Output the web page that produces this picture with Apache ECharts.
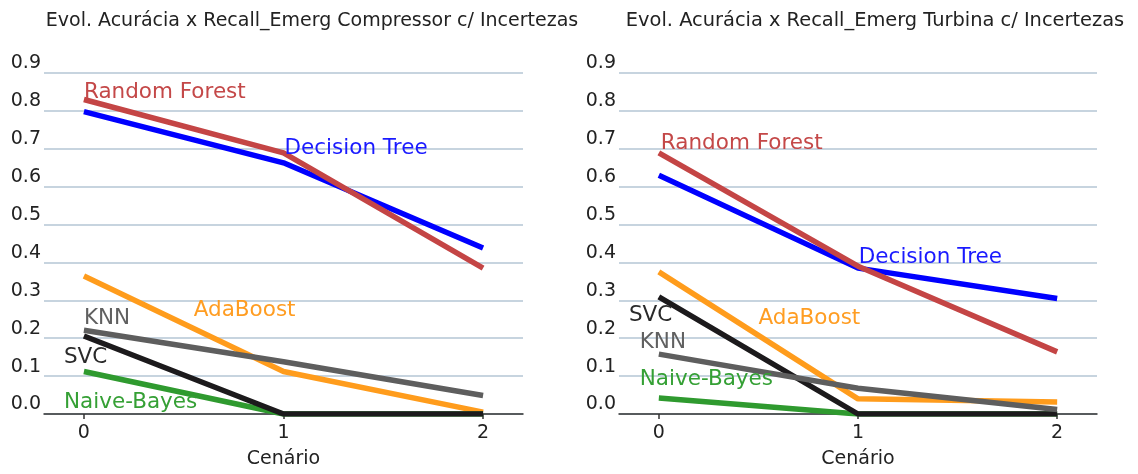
<!DOCTYPE html>
<html>
<head>
<meta charset="utf-8">
<script src="https://cdn.jsdelivr.net/npm/echarts@6/dist/echarts.min.js"></script>
<style>html,body{margin:0;padding:0;background:#fff}#c{width:1138px;height:474px}</style>
</head>
<body>
<div id="c"></div>
<script>
// ---- data ----
const scenarios = [0, 1, 2];
const yTicks = [0.0, 0.1, 0.2, 0.3, 0.4, 0.5, 0.6, 0.7, 0.8, 0.9];
const titleComp = 'Evol. Acurácia x Recall_Emerg Compressor c/ Incertezas';
const titleTurb = 'Evol. Acurácia x Recall_Emerg Turbina c/ Incertezas';
const xName = 'Cenário';
const modelNames = ['Decision Tree', 'Random Forest', 'AdaBoost', 'Naive-Bayes', 'SVC', 'KNN'];

// Compressor
const compDT  = [0.798, 0.663, 0.438];
const compRF  = [0.830, 0.689, 0.385];
const compAda = [0.364, 0.112, 0.005];
const compNB  = [0.112, 0.000, 0.000];
const compSVC = [0.206, 0.000, 0.000];
const compKNN = [0.221, 0.138, 0.049];

// Turbina
const turbDT  = [0.630, 0.385, 0.305];
const turbRF  = [0.689, 0.390, 0.164];
const turbAda = [0.375, 0.040, 0.032];
const turbNB  = [0.042, 0.000, 0.000];
const turbSVC = [0.309, 0.000, 0.000];
const turbKNN = [0.158, 0.068, 0.012];

// annotation anchors (data coords, left-middle of text)
const compLabelX = [1.005, 0.0, 0.55, -0.10, -0.10, 0.0];
const compLabelY = [0.701, 0.850, 0.273, 0.030, 0.150, 0.252];
const turbLabelX = [1.004, 0.01, 0.50, -0.096, -0.15, -0.096];
const turbLabelY = [0.412, 0.714, 0.252, 0.090, 0.260, 0.189];
const ghostLabel = {name: 'AdaBoost', x: 0.55, y: 0.317};

// ---- styles ----
const FONT = 'DejaVu Sans';
const colors = {
  'Decision Tree': '#0000ff',
  'Random Forest': '#c44545',
  'AdaBoost': '#ff9c1c',
  'Naive-Bayes': '#2f9a2f',
  'SVC': '#1c1a1c',
  'KNN': '#5e5e5e'
};
const textColors = {
  'Decision Tree': '#1a1aff',
  'Random Forest': '#c44848',
  'AdaBoost': '#ff9d22',
  'Naive-Bayes': '#35a035',
  'SVC': '#2a2a2a',
  'KNN': '#606060'
};

const compSets = [compDT, compRF, compAda, compNB, compSVC, compKNN];
const turbSets = [turbDT, turbRF, turbAda, turbNB, turbSVC, turbKNN];

function xAxisFor(gi) {
  return {
    type: 'value', gridIndex: gi, min: -0.2, max: 2.2,
    axisLine: {show: true, lineStyle: {color: '#333', width: 1.5}},
    axisTick: {show: true, customValues: scenarios, length: 5, lineStyle: {color: '#333', width: 1.5}},
    axisLabel: {customValues: scenarios, fontSize: 19, color: '#222', fontFamily: FONT, margin: 10},
    splitLine: {show: false},
    name: xName, nameLocation: 'middle', nameGap: 36,
    nameTextStyle: {fontSize: 19, color: '#222', fontFamily: FONT}
  };
}
function yAxisFor(gi, margin) {
  return {
    type: 'value', gridIndex: gi, min: 0, max: 0.9, interval: 0.1,
    axisLine: {show: false}, axisTick: {show: false},
    axisLabel: {formatter: v => v.toFixed(1), fontSize: 19, color: '#222', fontFamily: FONT,
                verticalAlign: 'bottom', margin: margin},
    splitLine: {show: true, lineStyle: {color: '#b4c6d4', width: 1.5}}
  };
}

const series = [];
function addLines(sets, gi) {
  sets.forEach((vals, i) => {
    const name = modelNames[i];
    series.push({
      type: 'line', name: name, xAxisIndex: gi, yAxisIndex: gi,
      data: scenarios.map((s, k) => [s, vals[k]]),
      showSymbol: false, symbol: 'none',
      lineStyle: {color: colors[name], width: 5.5, cap: 'butt'},
      z: 3 + i, animation: false
    });
  });
}
addLines(compSets, 0);
addLines(turbSets, 1);

const titles = [
  {type: 'text', x: 312, y: 21, z: 100, style: {text: titleComp, fontSize: 19, fontFamily: FONT, fill: '#222',
    align: 'center', verticalAlign: 'middle'}},
  {type: 'text', x: 875, y: 21, z: 100, style: {text: titleTurb, fontSize: 19.4, fontFamily: FONT, fill: '#222',
    align: 'center', verticalAlign: 'middle'}}
];

const chart = echarts.init(document.getElementById('c'), null, {renderer: 'canvas'});
chart.setOption({
  animation: false,
  backgroundColor: '#ffffff',
  textStyle: {fontFamily: FONT},
  grid: [
    {left: 44, right: 1138 - 523, top: 73, bottom: 56, containLabel: false},
    {left: 619, right: 1138 - 1097, top: 73, bottom: 56, containLabel: false}
  ],
  xAxis: [xAxisFor(0), xAxisFor(1)],
  yAxis: [yAxisFor(0, 3), yAxisFor(1, 3)],
  graphic: titles,
  series: series
});

// annotations placed through the chart's own coordinate conversion
function annot(gi, text, x, y, color, z) {
  const p = chart.convertToPixel({gridIndex: gi}, [x, y]);
  return {type: 'text', x: p[0], y: p[1], z: z, silent: true,
    style: {text: text, fontSize: 21.5, fontFamily: FONT, fill: color, align: 'left', verticalAlign: 'middle'}};
}
const ann = [];
ann.push(annot(0, ghostLabel.name, ghostLabel.x, ghostLabel.y, '#ffffff', 1));
modelNames.forEach((n, i) => {
  ann.push(annot(0, n, compLabelX[i], compLabelY[i], textColors[n], 100));
  ann.push(annot(1, n, turbLabelX[i], turbLabelY[i], textColors[n], 100));
});
chart.setOption({graphic: titles.concat(ann)});
</script>
</body>
</html>
